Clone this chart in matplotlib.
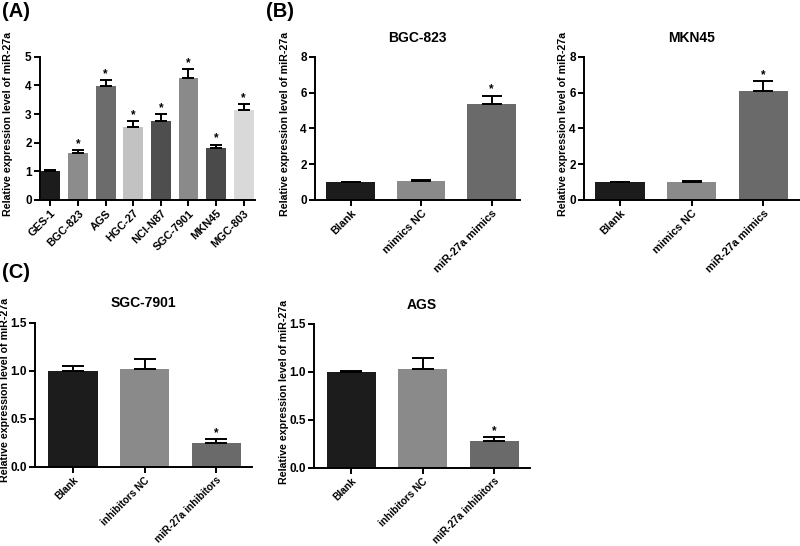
import numpy as np
import matplotlib as mpl
mpl.use('Agg')
import matplotlib.pyplot as plt

plt.rcParams['font.family'] = ['Liberation Sans', 'DejaVu Sans']
plt.rcParams['font.weight'] = 'bold'

# panel A: cell lines
lines_a = ["GES-1", "BGC-823", "AGS", "HGC-27", "NCI-N87", "SGC-7901", "MKN45", "MGC-803"]
vals_a = [1.0, 1.65, 3.97, 2.55, 2.77, 4.25, 1.80, 3.15]
errs_a = [0.03, 0.10, 0.22, 0.20, 0.22, 0.32, 0.13, 0.20]
cols_a = ["#1c1c1c", "#8c8c8c", "#6c6c6c", "#c2c2c2", "#4e4e4e", "#8a8a8a", "#4a4a4a", "#d9d9d9"]

# panel B: mimics
groups_b = ["Blank", "mimics NC", "miR-27a mimics"]
vals_bgc = [1.0, 1.05, 5.38]
errs_bgc = [0.02, 0.07, 0.45]
vals_mkn = [1.0, 1.0, 6.1]
errs_mkn = [0.02, 0.08, 0.52]

# panel C: inhibitors
groups_c = ["Blank", "inhibitors NC", "miR-27a inhibitors"]
vals_sgc = [1.0, 1.02, 0.25]
errs_sgc = [0.05, 0.10, 0.04]
vals_ags = [1.0, 1.03, 0.28]
errs_ags = [0.01, 0.11, 0.04]

cols_3 = ["#1c1c1c", "#8a8a8a", "#6a6a6a"]
ylab = "Relative expression level of miR-27a"


def style(ax, ymax, step, xlim, labx):
    for s in ["top", "right"]:
        ax.spines[s].set_visible(False)
    for s in ["left", "bottom"]:
        ax.spines[s].set_linewidth(1.4)
    ax.set_ylim(0, ymax)
    ax.set_yticks(np.arange(0, ymax + step / 2, step))
    ax.set_xlim(*xlim)
    ax.tick_params(width=1.4, length=4)
    ax.tick_params(axis="y", labelsize=8.5, pad=2)
    ax.tick_params(axis="x", pad=2)
    ax.set_ylabel(ylab, fontsize=7.7, fontweight="bold")
    ax.yaxis.set_label_coords(labx, 0.53)


def bars(ax, labels, vals, errs, cols, width, cap, star, fs=7.9):
    x = np.arange(len(vals))
    ax.bar(x, vals, width=width, color=cols, zorder=2)
    ax.errorbar(x, vals, yerr=[np.zeros(len(errs)), errs], fmt="none",
                ecolor="black", elinewidth=1.4, capsize=cap, capthick=1.4, zorder=3)
    ax.set_xticks(x)
    ax.set_xticklabels(labels, rotation=45, ha="right", rotation_mode="anchor",
                       fontsize=fs, fontweight="bold")
    for i in star:
        ax.text(x[i], vals[i] + errs[i], "*", ha="center", va="bottom", fontsize=8.5)


fig = plt.figure(figsize=(8, 5.46), dpi=100)

ax = fig.add_axes([0.05, 0.634, 0.269, 0.262])
bars(ax, lines_a, vals_a, errs_a, cols_a, 0.72, 4, range(1, 8))
style(ax, 5, 1, (-0.38, 7.42), -0.125)

ax = fig.add_axes([0.394, 0.634, 0.256, 0.262])
bars(ax, groups_b, vals_bgc, errs_bgc, cols_3, 0.69, 7, [2])
style(ax, 8, 2, (-0.5, 2.4), -0.125)
ax.set_title("BGC-823", fontsize=10, fontweight="bold", pad=11)

ax = fig.add_axes([0.73, 0.634, 0.269, 0.262])
bars(ax, groups_b, vals_mkn, errs_mkn, cols_3, 0.69, 7, [2])
style(ax, 8, 2, (-0.5, 2.5), -0.075)
ax.set_title("MKN45", fontsize=10, fontweight="bold", pad=11)

ax = fig.add_axes([0.044, 0.145, 0.271, 0.264])
bars(ax, groups_c, vals_sgc, errs_sgc, cols_3, 0.69, 8, [2], fs=7.3)
style(ax, 1.5, 0.5, (-0.53, 2.5), -0.115)
ax.set_title("SGC-7901", fontsize=10, fontweight="bold", pad=11)

ax = fig.add_axes([0.3925, 0.143, 0.27, 0.264])
bars(ax, groups_c, vals_ags, errs_ags, cols_3, 0.69, 8, [2], fs=7.3)
style(ax, 1.5, 0.5, (-0.52, 2.5), -0.115)
ax.set_title("AGS", fontsize=10, fontweight="bold", pad=11)

fig.text(0.002, 0.997, "(A)", fontsize=14.5, fontweight="bold", va="top")
fig.text(0.333, 0.997, "(B)", fontsize=14.5, fontweight="bold", va="top")
fig.text(0.002, 0.518, "(C)", fontsize=14.5, fontweight="bold", va="top")

fig.savefig("out.png", dpi=100)
